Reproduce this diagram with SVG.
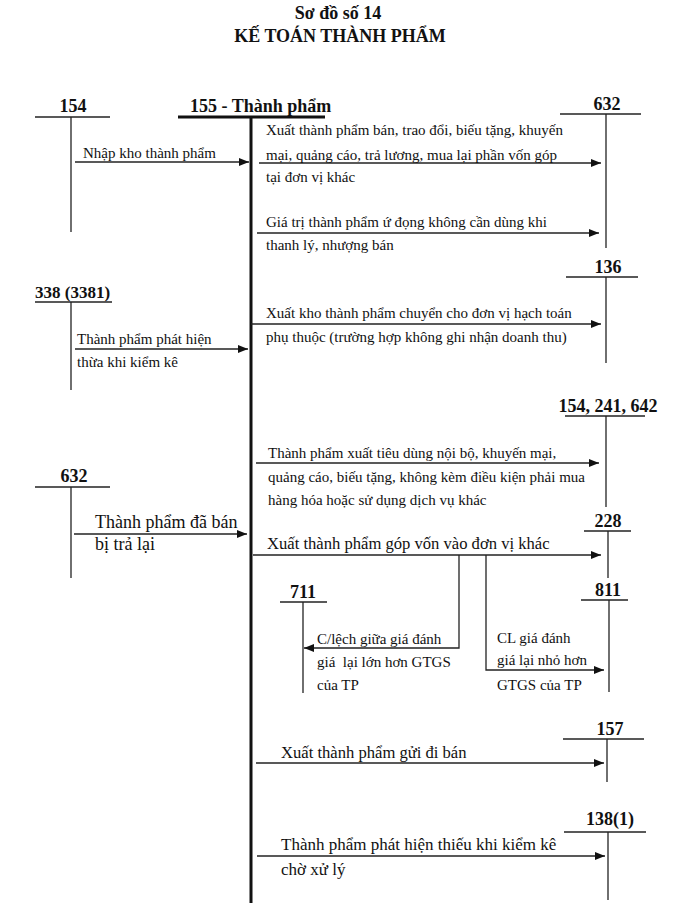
<svg xmlns="http://www.w3.org/2000/svg" width="674" height="922" viewBox="0 0 674 922">
<defs>
<marker id="ah" viewBox="0 0 10 8" refX="10" refY="4" markerWidth="10" markerHeight="8" markerUnits="userSpaceOnUse" orient="auto">
<path d="M0,0 L10,4 L0,8 z" fill="#111"/>
</marker>
<style>
text{font-family:"Liberation Serif","Times New Roman",serif;fill:#111}
.t{font-size:18px;font-weight:bold}
.acc{font-size:18px;font-weight:bold}
.lb{font-size:15px}
.lb2{font-size:16.6px}
.ln{stroke:#222;stroke-width:1.3;fill:none}
.thick{stroke:#111;stroke-width:3;fill:none}
.ar{stroke:#222;stroke-width:1.3;fill:none;marker-end:url(#ah)}
</style>
</defs>
<rect width="674" height="922" fill="#fff"/>
<g id="title">
<text class="t" x="338" y="19" text-anchor="middle">Sơ đồ số 14</text>
<text class="t" x="340" y="42" text-anchor="middle">KẾ TOÁN THÀNH PHẨM</text>
</g>
<g id="acc155">
<text class="acc" x="190" y="112">155 - Thành phẩm</text>
<line class="thick" x1="178" y1="117" x2="325" y2="117"/>
<line class="thick" x1="251" y1="116" x2="251" y2="903"/>
</g>
<g id="acc154">
<text class="acc" x="73" y="112" text-anchor="middle">154</text>
<line class="ln" x1="35" y1="117" x2="110" y2="117"/>
<line class="ln" x1="71" y1="117" x2="71" y2="232"/>
</g>
<g id="acc3381">
<text class="acc" x="35" y="298" style="font-size:17px">338 (3381)</text>
<line class="ln" x1="35" y1="302" x2="112" y2="302"/>
<line class="ln" x1="71" y1="302" x2="71" y2="390"/>
</g>
<g id="acc632left">
<text class="acc" x="74" y="482" text-anchor="middle">632</text>
<line class="ln" x1="35" y1="487" x2="110" y2="487"/>
<line class="ln" x1="71" y1="487" x2="71" y2="578"/>
</g>
<g id="acc632">
<text class="acc" x="607" y="110" text-anchor="middle">632</text>
<line class="ln" x1="560" y1="114" x2="641" y2="114"/>
<line class="ln" x1="606" y1="114" x2="606" y2="248"/>
</g>
<g id="acc136">
<text class="acc" x="608" y="273" text-anchor="middle">136</text>
<line class="ln" x1="566" y1="277" x2="638" y2="277"/>
<line class="ln" x1="606" y1="277" x2="606" y2="363"/>
</g>
<g id="acc154b">
<text class="acc" x="608" y="412" text-anchor="middle">154, 241, 642</text>
<line class="ln" x1="565" y1="416" x2="645" y2="416"/>
<line class="ln" x1="606" y1="416" x2="606" y2="507"/>
</g>
<g id="acc228">
<text class="acc" x="608" y="527" text-anchor="middle">228</text>
<line class="ln" x1="584" y1="531" x2="631" y2="531"/>
<line class="ln" x1="608" y1="531" x2="608" y2="578"/>
</g>
<g id="acc711">
<text class="acc" x="303" y="598" text-anchor="middle">711</text>
<line class="ln" x1="280" y1="602" x2="327" y2="602"/>
<line class="ln" x1="303" y1="602" x2="303" y2="693"/>
</g>
<g id="acc811">
<text class="acc" x="608" y="596" text-anchor="middle">811</text>
<line class="ln" x1="581" y1="600" x2="628" y2="600"/>
<line class="ln" x1="609" y1="600" x2="609" y2="692"/>
</g>
<g id="acc157">
<text class="acc" x="610" y="735" text-anchor="middle">157</text>
<line class="ln" x1="563" y1="739" x2="644" y2="739"/>
<line class="ln" x1="607" y1="739" x2="607" y2="782"/>
</g>
<g id="acc1381">
<text class="acc" x="610" y="825" text-anchor="middle">138(1)</text>
<line class="ln" x1="564" y1="832" x2="646" y2="832"/>
<line class="ln" x1="608" y1="832" x2="608" y2="900"/>
</g>
<g id="connectors">
<line class="ar" x1="75" y1="162" x2="249" y2="162"/>
<line class="ar" x1="75" y1="349" x2="248" y2="349"/>
<line class="ar" x1="74" y1="534" x2="247" y2="534"/>
<line class="ar" x1="259" y1="163" x2="601" y2="163"/>
<line class="ar" x1="257" y1="233" x2="599" y2="233"/>
<line class="ar" x1="251" y1="324" x2="601" y2="324"/>
<line class="ar" x1="256" y1="463" x2="599" y2="463"/>
<line class="ar" x1="253" y1="555" x2="601" y2="555"/>
<path class="ar" d="M459,555 L459,648 L304,648"/>
<path class="ar" d="M486,555 L486,670 L604,670"/>
<line class="ar" x1="256" y1="763" x2="604" y2="763"/>
<line class="ar" x1="257" y1="856" x2="605" y2="856"/>
</g>
<g id="labels">
<text class="lb" x="83" y="158">Nhập kho thành phẩm</text>
<text class="lb" x="77" y="344">Thành phẩm phát hiện</text>
<text class="lb" x="77" y="367">thừa khi kiểm kê</text>
<text class="lb2" x="95" y="528" style="font-size:18px">Thành phẩm đã bán</text>
<text class="lb2" x="95" y="550" style="font-size:18px">bị trả lại</text>
<text class="lb" x="266" y="135">Xuất thành phẩm bán, trao đổi, biếu tặng, khuyến</text>
<text class="lb" x="266" y="160">mại, quảng cáo, trả lương, mua lại phần vốn góp</text>
<text class="lb" x="266" y="182">tại đơn vị khác</text>
<text class="lb" x="266" y="227">Giá trị thành phẩm ứ đọng không cần dùng khi</text>
<text class="lb" x="266" y="250">thanh lý, nhượng bán</text>
<text class="lb" x="266" y="318">Xuất kho thành phẩm chuyển cho đơn vị hạch toán</text>
<text class="lb" x="266" y="342">phụ thuộc (trường hợp không ghi nhận doanh thu)</text>
<text class="lb" x="268" y="458">Thành phẩm xuất tiêu dùng nội bộ, khuyến mại,</text>
<text class="lb" x="268" y="482">quảng cáo, biếu tặng, không kèm điều kiện phải mua</text>
<text class="lb" x="268" y="505">hàng hóa hoặc sử dụng dịch vụ khác</text>
<text class="lb2" x="267" y="549">Xuất thành phẩm góp vốn vào đơn vị khác</text>
<text class="lb" x="317" y="644">C/lệch giữa giá đánh</text>
<text class="lb" x="317" y="667" xml:space="preserve">giá  lại lớn hơn GTGS</text>
<text class="lb" x="317" y="690">của TP</text>
<text class="lb" x="497" y="643">CL giá đánh</text>
<text class="lb" x="497" y="665">giá lại nhỏ hơn</text>
<text class="lb" x="497" y="690">GTGS của TP</text>
<text class="lb2" x="281" y="758">Xuất thành phẩm gửi đi bán</text>
<text class="lb2" x="281" y="850" style="font-size:17px">Thành phẩm phát hiện thiếu khi kiểm kê</text>
<text class="lb2" x="281" y="875" style="font-size:17px">chờ xử lý</text>
</g>
</svg>
